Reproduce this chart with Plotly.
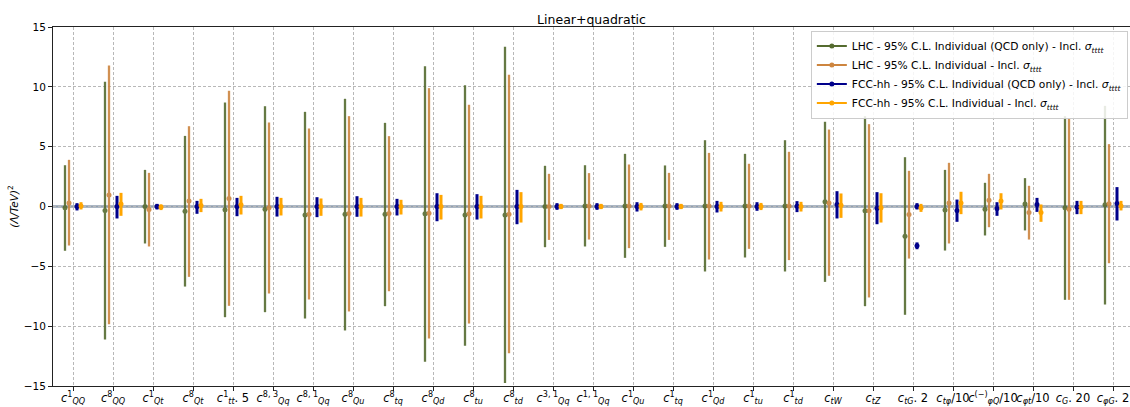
import plotly.graph_objects as go

labels = [
    "<i>c</i><sup>1</sup><sub><i>QQ</i></sub>",
    "<i>c</i><sup>8</sup><sub><i>QQ</i></sub>",
    "<i>c</i><sup>1</sup><sub><i>Qt</i></sub>",
    "<i>c</i><sup>8</sup><sub><i>Qt</i></sub>",
    "<i>c</i><sup>1</sup><sub><i>tt</i></sub>. 5",
    "<i>c</i><sup>8, 3</sup><sub><i>Qq</i></sub>",
    "<i>c</i><sup>8, 1</sup><sub><i>Qq</i></sub>",
    "<i>c</i><sup>8</sup><sub><i>Qu</i></sub>",
    "<i>c</i><sup>8</sup><sub><i>tq</i></sub>",
    "<i>c</i><sup>8</sup><sub><i>Qd</i></sub>",
    "<i>c</i><sup>8</sup><sub><i>tu</i></sub>",
    "<i>c</i><sup>8</sup><sub><i>td</i></sub>",
    "<i>c</i><sup>3, 1</sup><sub><i>Qq</i></sub>",
    "<i>c</i><sup>1, 1</sup><sub><i>Qq</i></sub>",
    "<i>c</i><sup>1</sup><sub><i>Qu</i></sub>",
    "<i>c</i><sup>1</sup><sub><i>tq</i></sub>",
    "<i>c</i><sup>1</sup><sub><i>Qd</i></sub>",
    "<i>c</i><sup>1</sup><sub><i>tu</i></sub>",
    "<i>c</i><sup>1</sup><sub><i>td</i></sub>",
    "<i>c<sub>tW</sub></i>",
    "<i>c<sub>tZ</sub></i>",
    "<i>c<sub>tG</sub></i>. 2",
    "<i>c<sub>tφ</sub></i>/10",
    "<i>c</i><sup>(−)</sup><sub><i>φQ</i></sub>/10",
    "<i>c<sub>φt</sub></i>/10",
    "<i>c<sub>G</sub></i>. 20",
    "<i>c<sub>φG</sub></i>. 2",
]

# LHC - QCD only (green)
lhc_qcd_c  = [-0.10, -0.33, 0.00, -0.39, -0.28, -0.22, -0.72, -0.64, -0.64, -0.61, -0.72, -0.70, 0.00, 0.05, 0.05, 0.05, 0.05, 0.05, 0.05, 0.39, -0.36, -2.48, -0.30, -0.22, 0.20, -0.11, 0.14]
lhc_qcd_lo = [-3.70, -11.11, -3.09, -6.69, -9.25, -8.83, -9.36, -10.36, -8.33, -12.98, -11.64, -14.74, -3.40, -3.34, -4.29, -3.37, -5.43, -4.26, -5.43, -6.30, -8.33, -9.05, -3.68, -2.42, -2.00, -7.80, -8.19]
lhc_qcd_hi = [3.45, 10.42, 3.06, 5.90, 8.69, 8.38, 7.91, 9.00, 6.99, 11.73, 10.14, 13.34, 3.40, 3.45, 4.40, 3.43, 5.54, 4.40, 5.54, 7.08, 7.55, 4.12, 3.06, 1.98, 2.37, 7.55, 8.41]

# LHC - full (orange)
lhc_c  = [0.30, 0.97, -0.25, 0.45, 0.67, -0.10, -0.64, -0.58, -0.58, -0.56, -0.61, -0.64, 0.00, 0.05, 0.05, 0.05, 0.05, 0.05, 0.05, 0.30, -0.36, -0.67, 0.30, 0.53, -0.50, -0.22, 0.22]
lhc_lo = [-3.26, -9.83, -3.34, -5.88, -8.30, -7.27, -7.77, -8.77, -7.08, -11.03, -9.78, -12.26, -2.79, -2.76, -3.48, -2.79, -4.43, -3.54, -4.48, -5.79, -7.60, -4.35, -3.09, -1.73, -2.76, -7.80, -4.74]
lhc_hi = [3.90, 11.78, 2.81, 6.71, 9.67, 7.02, 6.52, 7.55, 5.88, 9.89, 8.50, 11.00, 2.73, 2.79, 3.51, 2.81, 4.48, 3.57, 4.57, 6.43, 6.88, 2.98, 3.65, 2.73, 1.73, 7.38, 5.21]

# FCC-hh - QCD only (dark blue)
fcc_qcd_c  = [0.00, 0.00, 0.00, 0.00, 0.00, 0.00, 0.00, 0.00, 0.00, 0.00, 0.00, 0.00, 0.00, 0.00, 0.00, 0.00, 0.00, 0.00, 0.02, 0.17, -0.14, 0.00, -0.33, -0.17, 0.17, -0.05, 0.25]
fcc_qcd_lo = [-0.33, -1.00, -0.25, -0.61, -0.81, -0.84, -0.89, -0.86, -0.75, -1.23, -1.09, -1.48, -0.28, -0.28, -0.42, -0.28, -0.50, -0.36, -0.47, -1.00, -1.48, -0.25, -1.28, -0.78, -0.45, -0.64, -1.17]
fcc_qcd_hi = [0.28, 0.89, 0.22, 0.47, 0.72, 0.81, 0.78, 0.86, 0.64, 1.11, 1.03, 1.39, 0.28, 0.28, 0.36, 0.28, 0.47, 0.36, 0.45, 1.28, 1.20, 0.28, 0.58, 0.36, 0.72, 0.47, 1.62]
# second (disjoint) solution for FCC-hh QCD only
fcc_qcd2_idx = [21]
fcc_qcd2_c   = [-3.29]
fcc_qcd2_lo  = [-3.57]
fcc_qcd2_hi  = [-3.00]

# FCC-hh - full (orange/yellow)
fcc_c  = [0.05, 0.20, -0.05, 0.08, 0.14, 0.00, 0.00, 0.00, 0.00, 0.00, 0.00, 0.00, 0.00, 0.00, 0.00, 0.00, 0.00, 0.00, 0.00, 0.11, -0.11, -0.11, 0.30, 0.47, -0.50, -0.05, 0.05]
fcc_lo = [-0.25, -0.78, -0.30, -0.47, -0.67, -0.75, -0.78, -0.84, -0.67, -1.09, -1.00, -1.34, -0.22, -0.22, -0.33, -0.22, -0.42, -0.30, -0.42, -0.95, -1.34, -0.45, -0.64, -0.25, -1.28, -0.64, -0.33]
fcc_hi = [0.36, 1.14, 0.17, 0.64, 0.89, 0.72, 0.67, 0.72, 0.56, 0.97, 0.89, 1.20, 0.22, 0.22, 0.30, 0.22, 0.39, 0.30, 0.39, 1.09, 1.11, 0.22, 1.23, 1.11, 0.17, 0.47, 0.47]

legend_names = [
    "LHC - 95% C.L. Individual (QCD only) - Incl. <i>σ<sub>tttt</sub></i>",
    "LHC - 95% C.L. Individual - Incl. <i>σ<sub>tttt</sub></i>",
    "FCC-hh - 95% C.L. Individual (QCD only) - Incl. <i>σ<sub>tttt</sub></i>",
    "FCC-hh - 95% C.L. Individual - Incl. <i>σ<sub>tttt</sub></i>",
]
colors = ["#556b2f", "#cd853f", "#00008b", "#ffa500"]
offsets = [-0.2, -0.1, 0.1, 0.2]
thick = [2.3, 2.3, 3.0, 3.0]

series = [
    (lhc_qcd_c, lhc_qcd_lo, lhc_qcd_hi),
    (lhc_c, lhc_lo, lhc_hi),
    (fcc_qcd_c, fcc_qcd_lo, fcc_qcd_hi),
    (fcc_c, fcc_lo, fcc_hi),
]

fig = go.Figure()
n = len(labels)
for k, (c, lo, hi) in enumerate(series):
    xs = [i + offsets[k] for i in range(n)]
    fig.add_trace(go.Scatter(
        x=xs, y=c, mode="markers",
        marker=dict(color=colors[k], size=5),
        error_y=dict(type="data", symmetric=False,
                     array=[h - v for h, v in zip(hi, c)],
                     arrayminus=[v - l for v, l in zip(c, lo)],
                     color=colors[k], thickness=thick[k], width=0),
        showlegend=False, opacity=0.9 if k < 2 else 1.0,
    ))
    if k == 2:
        fig.add_trace(go.Scatter(
            x=[i + offsets[k] for i in fcc_qcd2_idx], y=fcc_qcd2_c, mode="markers",
            marker=dict(color=colors[k], size=5),
            error_y=dict(type="data", symmetric=False,
                         array=[h - v for h, v in zip(fcc_qcd2_hi, fcc_qcd2_c)],
                         arrayminus=[v - l for v, l in zip(fcc_qcd2_c, fcc_qcd2_lo)],
                         color=colors[k], thickness=thick[k], width=0),
            showlegend=False,
        ))

for k in range(4):
    fig.add_trace(go.Scatter(
        x=[None], y=[None], mode="lines+markers", name=legend_names[k],
        line=dict(color=colors[k], width=2), marker=dict(color=colors[k], size=5),
    ))

fig.add_shape(type="line", xref="paper", x0=0, x1=1, yref="y", y0=0, y1=0,
              line=dict(color="rgba(118,136,158,0.8)", width=2.5), layer="below")

fig.update_layout(
    width=1130, height=407,
    margin=dict(l=53, r=0, t=27, b=21, autoexpand=False),
    paper_bgcolor="white", plot_bgcolor="white",
    font=dict(family="DejaVu Sans", size=10, color="black"),
    title=dict(text="Linear+quadratic", x=(53 + 1077 / 2) / 1130, xanchor="center",
               y=1 - 20 / 407, yanchor="middle", yref="container",
               font=dict(size=12.5)),
    showlegend=True,
    legend=dict(x=0.998, y=0.99, xanchor="right", yanchor="top",
                bgcolor="rgba(255,255,255,0.85)", bordercolor="#cccccc", borderwidth=1,
                font=dict(size=10.7), tracegroupgap=0, itemwidth=30),
)
fig.update_xaxes(
    range=[-0.5, -0.5 + 1077 / 40], tickmode="array", tickvals=list(range(n)), ticktext=labels,
    showgrid=True, gridcolor="#b8b8b8", griddash="3px,2px", gridwidth=1,
    showline=True, linecolor="#222", linewidth=1, mirror=True,
    ticks="outside", ticklen=4, tickcolor="#222", tickangle=0, zeroline=False,
    tickfont=dict(size=11.5), automargin=False, ticklabelstandoff=-3,
)
fig.update_yaxes(
    range=[-15, 15], tickvals=[-15, -10, -5, 0, 5, 10, 15],
    showgrid=True, gridcolor="#b8b8b8", griddash="3px,2px", gridwidth=1,
    showline=True, linecolor="#222", linewidth=1,
    ticks="outside", ticklen=4, tickcolor="#222", zeroline=False,
    title=dict(text="<i>(Λ/TeV)</i><sup>2</sup>", standoff=3, font=dict(size=10.5)),
    tickfont=dict(size=10.5), automargin=False,
)

fig.write_html("out.html", config={"displayModeBar": False},
               post_script="document.body.style.margin='0';document.body.style.padding='0';")
